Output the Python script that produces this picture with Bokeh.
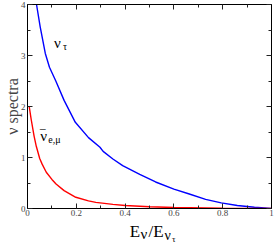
from bokeh.plotting import figure
from bokeh.models import Range1d, LinearAxis, FixedTicker, Label
from bokeh.layouts import column
from bokeh.embed import file_html
from bokeh.resources import INLINE

# nu_tau spectrum (blue)
tau_E = [0.037, 0.052, 0.073, 0.09, 0.116, 0.15, 0.196, 0.25, 0.297, 0.31,
         0.35, 0.39, 0.46, 0.525, 0.6, 0.66, 0.73, 0.794, 0.86, 0.93, 1.0]
tau_S = [4.0, 3.56, 3.04, 2.77, 2.5, 2.12, 1.69, 1.39, 1.2, 1.12,
         0.97, 0.84, 0.67, 0.52, 0.38, 0.29, 0.18, 0.11, 0.06, 0.025, 0.0]

# anti-nu_e,mu spectrum (red)
emu_E = [0.007, 0.015, 0.027, 0.036, 0.05, 0.06, 0.077, 0.1, 0.117, 0.15,
         0.198, 0.25, 0.28, 0.35, 0.40, 0.5, 0.6, 0.8, 1.0]
emu_S = [2.0, 1.75, 1.42, 1.22, 0.98, 0.87, 0.71, 0.57, 0.48, 0.35,
         0.22, 0.15, 0.12, 0.08, 0.06, 0.035, 0.02, 0.008, 0.0]

x_major = [0, 0.2, 0.4, 0.6, 0.8, 1.0]
x_minor = [0.1, 0.3, 0.5, 0.7, 0.9]
y_major = [0, 1, 2, 3, 4]
y_minor = [0.5, 1.5, 2.5, 3.5]
x_labels = {0: "0", 0.2: "0.2", 0.4: "0.4", 0.6: "0.6", 0.8: "0.8", 1: "1"}

SERIF = "Liberation Serif"
W = 274
LEFT = 23

# main plot
p = figure(width=W, height=220, output_backend="svg", toolbar_location=None,
           x_range=Range1d(0, 1), y_range=Range1d(0, 4), min_border=0,
           min_border_left=LEFT, min_border_right=3, min_border_top=4,
           min_border_bottom=12)
p.grid.visible = False
p.outline_line_color = "black"
p.outline_line_width = 1

p.line(tau_E, tau_S, line_color="#0000ff", line_width=1.4)
p.line(emu_E, emu_S, line_color="#ff0000", line_width=1.4)

def style(ax, labels=True):
    ax.major_tick_in = 5
    ax.major_tick_out = 0
    ax.minor_tick_in = 3
    ax.minor_tick_out = 0
    ax.axis_line_color = "black"
    ax.major_tick_line_color = "#222222"
    ax.minor_tick_line_color = "#222222"
    if labels:
        ax.major_label_text_font = SERIF
        ax.major_label_text_font_size = "9px"
        ax.major_label_text_color = "#444444"
        ax.major_label_standoff = 2
    else:
        ax.major_label_text_font_size = "0px"
        ax.major_label_text_alpha = 0
        ax.major_label_standoff = 0

xa = p.xaxis[0]
xa.ticker = FixedTicker(ticks=x_major, minor_ticks=x_minor)
xa.major_label_overrides = x_labels
style(xa)
xa.major_label_standoff = 1

ya = p.yaxis[0]
ya.ticker = FixedTicker(ticks=y_major, minor_ticks=y_minor)
style(ya)
ya.axis_label = "ν spectra"
ya.axis_label_text_font = SERIF
ya.axis_label_text_font_size = "16px"
ya.axis_label_text_font_style = "normal"
ya.axis_label_standoff = -3

top = LinearAxis(ticker=FixedTicker(ticks=x_major, minor_ticks=x_minor))
style(top, labels=False)
p.add_layout(top, "above")
right = LinearAxis(ticker=FixedTicker(ticks=y_major, minor_ticks=y_minor))
style(right, labels=False)
p.add_layout(right, "right")

def lab(fig, x, y, t, size, xo=0, yo=0):
    fig.add_layout(Label(x=x, y=y, text=t, x_offset=xo, y_offset=yo,
                         text_font=SERIF, text_font_size=size,
                         text_color="black", text_align="left",
                         text_baseline="alphabetic"))

# curve labels
lab(p, 0.109, 3.25, "ν", "15px")
lab(p, 0.145, 3.18, "τ", "10px")
lab(p, 0.052, 1.43, "ν", "15px")
lab(p, 0.052, 1.43, "‾", "15px")
lab(p, 0.085, 1.36, "e,μ", "10px")

# x axis label strip: E_nu / E_nu_tau
q = figure(width=W, height=23, output_backend="svg", toolbar_location=None,
           x_range=Range1d(0, 1), y_range=Range1d(0, 23), min_border=0,
           x_axis_location=None, y_axis_location=None,
           min_border_left=LEFT, min_border_right=3, min_border_top=0,
           min_border_bottom=0)
q.grid.visible = False
q.outline_line_color = None
lab(q, 0.5, 12, "E", "17px", -19.7)
lab(q, 0.5, 9.5, "ν", "15px", -9)
lab(q, 0.5, 12, "/E", "17px", -1)
lab(q, 0.5, 8, "ν", "14px", 15)
lab(q, 0.5, 5, "τ", "9px", 22.5)

layout = column(p, q, spacing=0)
open("out.html", "w").write(file_html(layout, INLINE))
